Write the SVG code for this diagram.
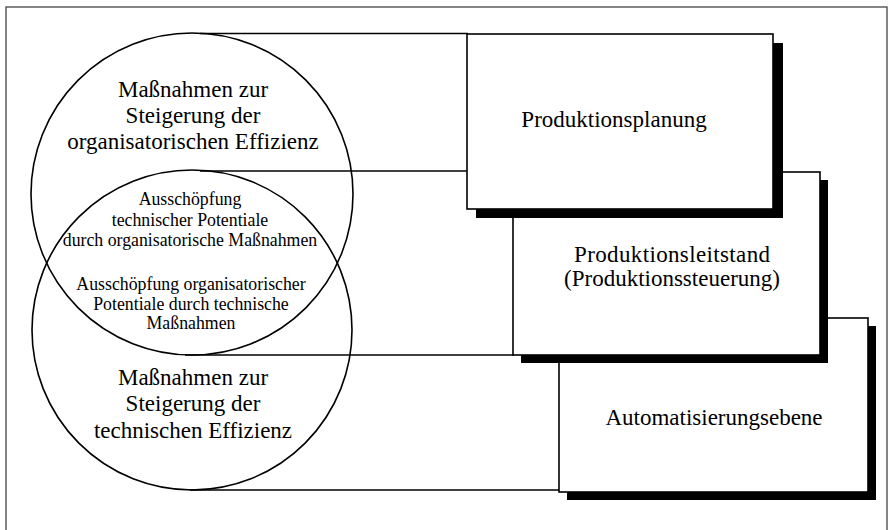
<svg xmlns="http://www.w3.org/2000/svg" width="891" height="530" viewBox="0 0 891 530">
<style>
.frame{fill:none;stroke:#444;stroke-width:1.3}
.ln{fill:none;stroke:#000;stroke-width:1.6}
.circ{fill:none;stroke:#000;stroke-width:1.6}
.box{fill:#fff;stroke:#000;stroke-width:1.6}
.sh{fill:#000}
.big{font-family:"Liberation Serif","Times New Roman",serif;font-size:23px;fill:#000;text-anchor:middle}
.small{font-family:"Liberation Serif","Times New Roman",serif;font-size:17.8px;fill:#000;text-anchor:middle}
</style>
<rect x="0" y="0" width="891" height="530" fill="#fff"/>
<rect class="frame" x="6" y="7" width="881" height="540"/>
<g id="connectors">
<line class="ln" x1="200" y1="33.5" x2="468" y2="33.5"/>
<line class="ln" x1="200" y1="171" x2="468" y2="171"/>
<line class="ln" x1="185" y1="355" x2="514" y2="355"/>
<line class="ln" x1="190" y1="490" x2="560" y2="490"/>
</g>
<g id="circle-org">
<circle class="circ" cx="192" cy="194" r="161"/>
<text class="big" x="193" y="97">Maßnahmen zur</text>
<text class="big" x="193" y="123">Steigerung der</text>
<text class="big" x="193" y="149">organisatorischen Effizienz</text>
</g>
<g id="circle-tech">
<circle class="circ" cx="192" cy="330" r="160"/>
<text class="big" x="193" y="385">Maßnahmen zur</text>
<text class="big" x="193" y="411">Steigerung der</text>
<text class="big" x="193" y="438">technischen Effizienz</text>
</g>
<g id="lens-upper">
<text class="small" x="190" y="205">Ausschöpfung</text>
<text class="small" x="190" y="226">technischer Potentiale</text>
<text class="small" x="190" y="246">durch organisatorische Maßnahmen</text>
</g>
<g id="lens-lower">
<text class="small" x="191" y="290">Ausschöpfung organisatorischer</text>
<text class="small" x="191" y="310">Potentiale durch technische</text>
<text class="small" x="191" y="329">Maßnahmen</text>
</g>
<g id="box-automatisierung">
<rect class="sh" x="567" y="326" width="309" height="174"/>
<rect class="box" x="559" y="318" width="309" height="174"/>
<text class="big" x="714" y="425">Automatisierungsebene</text>
</g>
<g id="box-leitstand">
<rect class="sh" x="521" y="180" width="307" height="183"/>
<rect class="box" x="513" y="172" width="307" height="183"/>
<text class="big" x="672" y="262" textLength="196" lengthAdjust="spacing">Produktionsleitstand</text>
<text class="big" x="672" y="286">(Produktionssteuerung)</text>
</g>
<g id="box-planung">
<rect class="sh" x="476" y="43" width="307" height="175"/>
<rect class="box" x="467" y="34" width="306" height="175"/>
<text class="big" x="614" y="127">Produktionsplanung</text>
</g>
</svg>
